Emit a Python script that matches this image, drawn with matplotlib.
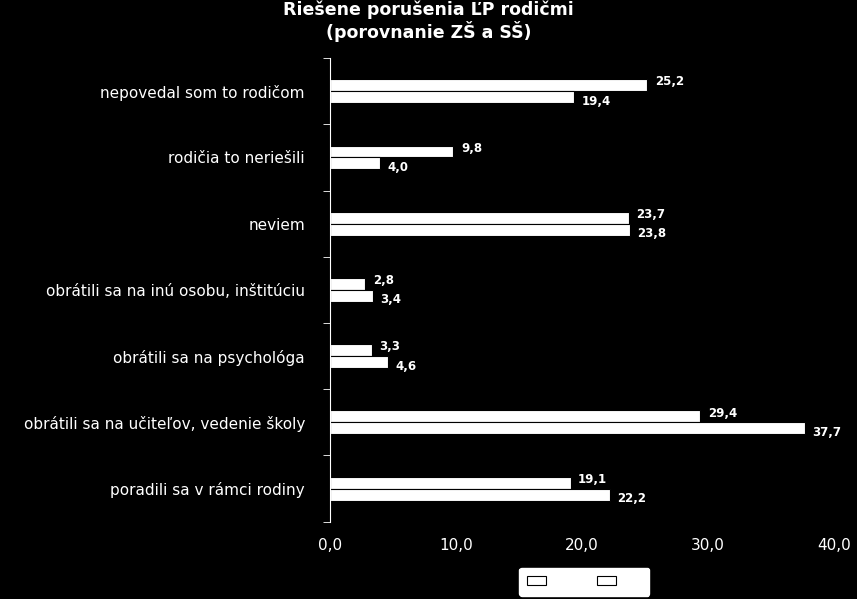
import matplotlib
matplotlib.use("Agg")
import matplotlib.pyplot as plt
import numpy as np

categories = ["nepovedal som to rodičom", "rodičia to neriešili", "neviem",
              "obrátili sa na inú osobu, inštitúciu", "obrátili sa na psychológa",
              "obrátili sa na učiteľov, vedenie školy", "poradili sa v rámci rodiny"]
zs = [25.2, 9.8, 23.7, 2.8, 3.3, 29.4, 19.1]
ss = [19.4, 4.0, 23.8, 3.4, 4.6, 37.7, 22.2]
series_names = ["ZŠ", "SŠ"]
xticks = [0, 10, 20, 30, 40]

fig = plt.figure(figsize=(8.57, 5.99), dpi=100, facecolor="black")
ax = fig.add_axes([0.385, 0.129, 0.588, 0.774], facecolor="black")
y = np.arange(len(categories))
h = 0.18
ax.barh(y - h/2, zs, height=h, color="white", edgecolor="black", linewidth=0.8, label=series_names[0])
ax.barh(y + h/2, ss, height=h, color="white", edgecolor="black", linewidth=0.8, label=series_names[1])
for i in range(len(categories)):
    ax.text(zs[i] + 0.6, y[i] - h/2 - 0.05, f"{zs[i]:.1f}".replace(".", ","), color="white",
            fontsize=8.5, fontweight="bold", va="center", ha="left")
    ax.text(ss[i] + 0.6, y[i] + h/2 + 0.06, f"{ss[i]:.1f}".replace(".", ","), color="black",
            fontsize=8.5, fontweight="bold", va="center", ha="left",
            bbox=dict(boxstyle="square,pad=0.05", fc="white", ec="none") if False else None)
# lower labels appear white on black
for t in ax.texts[1::2]:
    t.set_color("white")

ax.set_ylim(len(categories) - 0.5, -0.5)
ax.set_xlim(0, 40)
ax.set_yticks(y)
ax.set_yticklabels(categories, color="white", fontsize=11)
ax.set_yticks(np.arange(-0.5, len(categories)), minor=True)
ax.tick_params(axis="y", which="major", length=0, pad=18)
ax.tick_params(axis="y", which="minor", length=5, color="white", direction="out")
ax.set_xticks(xticks)
ax.set_xticklabels([f"{v:.1f}".replace(".", ",") for v in xticks], color="white", fontsize=11)
ax.tick_params(axis="x", length=0, pad=12)
for s in ["top", "right", "bottom"]:
    ax.spines[s].set_visible(False)
ax.spines["left"].set_color("white")

fig.text(0.5, 0.965, "Riešene porušenia ĽP rodičmi\n(porovnanie ZŠ a SŠ)", color="white",
         fontsize=12.5, fontweight="bold", ha="center", va="center", linespacing=1.1)

leg = fig.legend(loc="lower center", bbox_to_anchor=(0.682, -0.005), ncol=2, frameon=True,
                 facecolor="white", edgecolor="white", framealpha=1, fontsize=9,
                 handlelength=1.5, borderpad=0.6)
for t in leg.get_texts():
    t.set_color("white")
fig.savefig("out.png", dpi=100, facecolor="black")
